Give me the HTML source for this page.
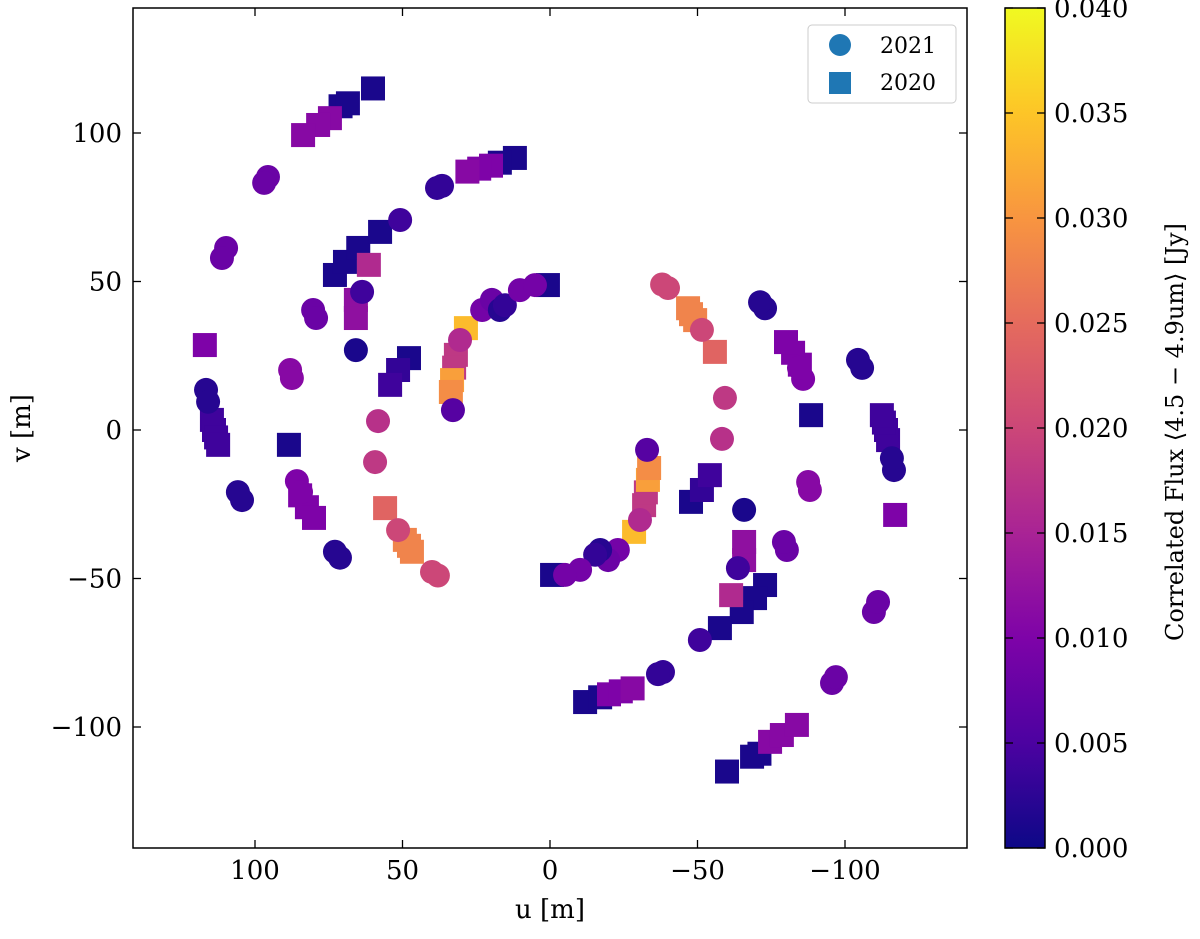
<!DOCTYPE html>
<html><head><meta charset="utf-8">
<style>
body{margin:0;background:#fff;}
svg text{font-family:"DejaVu Serif","Liberation Serif",serif;fill:#000;}
</style></head>
<body>
<svg id="chart" width="1200" height="934" viewBox="0 0 1200 934" xmlns="http://www.w3.org/2000/svg">
<defs>
<linearGradient id="plasma" x1="0" y1="1" x2="0" y2="0">
<stop offset="0" stop-color="#0d0887"/><stop offset="0.125" stop-color="#4c02a1"/>
<stop offset="0.25" stop-color="#7e03a8"/><stop offset="0.375" stop-color="#a92395"/>
<stop offset="0.5" stop-color="#cc4778"/><stop offset="0.625" stop-color="#e56b5d"/>
<stop offset="0.75" stop-color="#f89540"/><stop offset="0.875" stop-color="#fdc527"/>
<stop offset="1" stop-color="#f0f921"/>
</linearGradient>
</defs>
<g id="marks"></g>
<rect x="133" y="8" width="834" height="840" fill="none" stroke="#000" stroke-width="1.5"/>
<g id="axes"></g>
<text x="550" y="918" font-size="26" text-anchor="middle">u [m]</text>
<text transform="translate(30,428) rotate(-90)" font-size="26" text-anchor="middle">v [m]</text>
<g>
<rect x="808" y="25" width="148" height="78" rx="4" fill="#fff" stroke="#ccc"/>
<circle cx="840" cy="45" r="11" fill="#1f77b4"/>
<text x="880" y="53" font-size="22">2021</text>
<rect x="829" y="72" width="22" height="22" fill="#1f77b4"/>
<text x="880" y="90" font-size="22">2020</text>
</g>
<rect x="1005" y="8" width="40" height="840" fill="url(#plasma)" stroke="#000" stroke-width="1.5"/>
<g id="cbaxis"></g>
<text transform="translate(1183,432) rotate(-90)" font-size="24" text-anchor="middle">Correlated Flux ⟨4.5 − 4.9um⟩ [Jy]</text>
</svg>
<script>
// half of the uv points (u [m], v [m], flux [Jy]); conjugate points (-u,-v) are also measured
const squaresHalf = [
[60,115,0.001],[71,109,0.001],[68.5,110,0.001],[74.6,105,0.011],[78.6,102.7,0.011],[83.7,99.3,0.011],
[11.9,91.6,0.001],[17,90,0.001],[20,89,0.010],[24,88,0.010],[28,87,0.011],
[117,28.6,0.010],[114.6,3.4,0.004],[113.9,0,0.004],[113.2,-2.5,0.004],[112.5,-5,0.004],
[88.5,-5,0.001],[84.7,-22,0.010],[82.4,-26,0.010],[80,-29.6,0.010],
[72.9,52.2,0.001],[69.5,56.6,0.001],[65,61.3,0.001],[57.6,66.7,0.001],[61.4,55.6,0.016],
[65.8,43.8,0.012],[65.8,37.7,0.012],
[47.8,24.2,0.001],[51.5,20.2,0.003],[54.2,15.2,0.004],
[28.5,34.3,0.034],[31.9,25.3,0.018],[32.5,21,0.018],[33.2,16.8,0.031],[33.6,12.8,0.029],
[55.9,-26.3,0.024],[49.2,-37,0.028],[47.8,-39,0.028],[46.8,-41,0.028],[0.7,48.8,0.001]
];
const circlesHalf = [
[95.6,85.2,0.008],[96.9,83.2,0.008],[109.8,61.3,0.008],[111.2,57.9,0.008],
[116.6,13.5,0.002],[115.9,9.5,0.002],[105.8,-20.9,0.002],[104.4,-23.6,0.002],
[72.9,-41,0.002],[71.2,-43,0.002],[88.1,20.2,0.011],[87.5,17.5,0.011],
[85.8,-17.2,0.010],[84.4,-20.9,0.010],[80.3,40.4,0.008],[79.3,37.7,0.008],
[50.8,70.7,0.004],[38.3,81.5,0.003],[36.6,82.2,0.003],[63.7,46.5,0.004],[65.8,26.9,0.001],
[58.3,3,0.017],[59.3,-10.8,0.018],[51.5,-33.7,0.020],[40,-47.8,0.020],[38,-49,0.020],
[32.9,6.7,0.006],[30.5,30.3,0.016],[23,40.4,0.009],[19.7,43.8,0.008],
[17,40.4,0.002],[15.3,42,0.003],[10.2,47.1,0.009],[5.1,48.8,0.009]
];
const xTicks=[100,50,0,-50,-100];
const yTicks=[100,50,0,-50,-100];
const cTicks=[0,0.005,0.01,0.015,0.02,0.025,0.03,0.035,0.04];
const NS="http://www.w3.org/2000/svg";
const X=u=>550-u*2.95, Y=v=>430-v*2.97, C=f=>848-f/0.04*840;
const stops=[[13,8,135],[76,2,161],[126,3,168],[169,35,149],[204,71,120],[229,107,93],[248,149,64],[253,197,39],[240,249,33]];
function cmap(f){let t=Math.max(0,Math.min(1,f/0.04))*8,i=Math.min(7,Math.floor(t)),r=t-i;
 const a=stops[i],b=stops[i+1];return `rgb(${a.map((c,k)=>Math.round(c+(b[k]-c)*r)).join(',')})`;}
const marks=document.getElementById('marks');
const all=[];
squaresHalf.forEach(p=>{all.push(['s',p[0],p[1],p[2]]);all.push(['s',-p[0],-p[1],p[2]]);});
circlesHalf.forEach(p=>{all.push(['c',p[0],p[1],p[2]]);all.push(['c',-p[0],-p[1],p[2]]);});
all.forEach(p=>{let el;
 if(p[0]==='s'){el=document.createElementNS(NS,'rect');el.setAttribute('x',X(p[1])-12);el.setAttribute('y',Y(p[2])-12);el.setAttribute('width',24);el.setAttribute('height',24);
  }
 else{el=document.createElementNS(NS,'circle');el.setAttribute('cx',X(p[1]));el.setAttribute('cy',Y(p[2]));el.setAttribute('r',12);
  }
 
 el.setAttribute('fill',cmap(p[3]));marks.appendChild(el);});
const axes=document.getElementById('axes');
function line(x1,y1,x2,y2,g){const l=document.createElementNS(NS,'line');l.setAttribute('x1',x1);l.setAttribute('y1',y1);l.setAttribute('x2',x2);l.setAttribute('y2',y2);l.setAttribute('stroke','#000');l.setAttribute('stroke-width','1.3');
 
 g.appendChild(l);}
function txt(s,x,y,anchor,g,name,fs){const t=document.createElementNS(NS,'text');t.setAttribute('x',x);t.setAttribute('y',y);t.setAttribute('font-size',fs);t.setAttribute('text-anchor',anchor);t.textContent=s;
 
 g.appendChild(t);}
const fmt=v=>v<0?'\u2212'+(-v):''+v;
xTicks.forEach(u=>{const x=X(u);line(x,848,x,840,axes);line(x,8,x,16,axes);txt(fmt(u),x,879,'middle',axes,'x-tick-label',26);});
yTicks.forEach(v=>{const y=Y(v);line(133,y,141,y,axes);line(967,y,959,y,axes);txt(fmt(v),122,y+9,'end',axes,'y-tick-label',26);});
const cb=document.getElementById('cbaxis');
cTicks.forEach(f=>{const y=C(f);line(1045,y,1037,y,cb);line(1005,y,1013,y,cb);txt(f.toFixed(3),1054,y+9,'start',cb,'colorbar-tick-label',26);});
</script>
</body></html>
